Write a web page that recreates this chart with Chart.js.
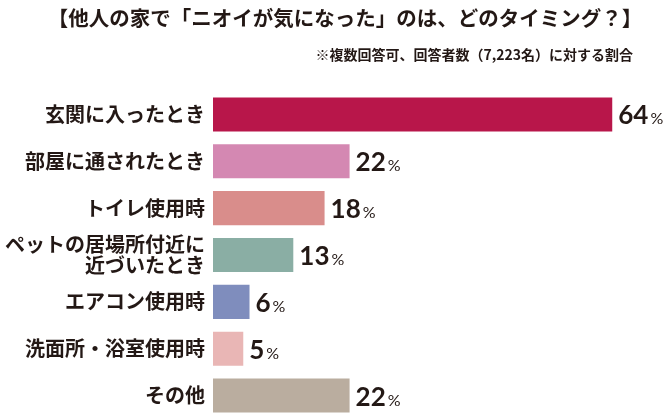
<!DOCTYPE html>
<html lang="ja">
<head>
<meta charset="utf-8">
<script src="https://cdn.jsdelivr.net/npm/chart.js@4/dist/chart.umd.min.js"></script>
<style>
  html, body { margin: 0; padding: 0; background: #fff; }
  #wrap { width: 668px; height: 419px; position: relative; }
</style>
</head>
<body>
<div id="wrap"><canvas id="chart"></canvas></div>
<script>
const chartTitle = "【他人の家で「ニオイが気になった」のは、どのタイミング？】";
const chartNote = "※複数回答可、回答者数（7,223名）に対する割合";
const categories = [
	"玄関に入ったとき",
	"部屋に通されたとき",
	"トイレ使用時",
	["ペットの居場所付近に", "近づいたとき"],
	"エアコン使用時",
	"洗面所・浴室使用時",
	"その他",
];
const values = [64, 22, 18, 13, 6, 5, 22];
const barColors = [
	"#B8164A",
	"#D488B2",
	"#D98D8B",
	"#8AAEA4",
	"#7F8DBD",
	"#E9B6B5",
	"#BAAD9F",
];

const textColor = "#231815";
const jpFont = "'Noto Sans CJK JP', 'Noto Sans', sans-serif";

const headerText = {
	id: "headerText",
	afterDraw(chart) {
		const { ctx } = chart;
		ctx.save();
		ctx.fillStyle = textColor;
		ctx.textBaseline = "middle";
		ctx.font = `bold 20.5px ${jpFont}`;
		ctx.textAlign = "center";
		ctx.fillText(chartTitle, 345, 18);
		ctx.font = `bold 14px ${jpFont}`;
		ctx.textAlign = "right";
		ctx.fillText(chartNote, 633, 55);
		ctx.restore();
	},
};

const valueLabels = {
	id: "valueLabels",
	afterDatasetsDraw(chart) {
		const { ctx } = chart;
		const meta = chart.getDatasetMeta(0);
		ctx.save();
		ctx.fillStyle = textColor;
		ctx.textAlign = "left";
		ctx.textBaseline = "alphabetic";
		meta.data.forEach((bar, idx) => {
			const num = String(chart.data.datasets[0].data[idx]);
			const x = bar.x + 5;
			const y = bar.y + 10;
			ctx.font = "bold 26px Lato, sans-serif";
			ctx.fillText(num, x, y);
			const w = ctx.measureText(num).width;
			ctx.font = "16px Lato, sans-serif";
			ctx.fillText("%", x + w + 2, y);
		});
		ctx.restore();
	},
};

new Chart(document.getElementById("chart"), {
	type: "bar",
	data: {
		labels: categories,
		datasets: [
			{
				data: values,
				backgroundColor: barColors,
				borderColor: "rgba(255,255,255,0.45)",
				borderWidth: 1,
				barPercentage: 0.77,
				categoryPercentage: 1,
			},
		],
	},
	options: {
		indexAxis: "y",
		responsive: true,
		maintainAspectRatio: false,
		animation: false,
		layout: {
			padding: { top: 91, right: 36, bottom: 0, left: 0 },
		},
		scales: {
			x: {
				display: false,
				min: 0,
				max: 67,
			},
			y: {
				afterFit: (scale) => {
					scale.width = 213;
					scale.paddingTop = 0;
					scale.paddingBottom = 0;
				},
				grid: { display: false, drawTicks: false },
				border: { display: false },
				ticks: {
					padding: 8,
					color: textColor,
					font: { family: jpFont, size: 20, weight: "bold", lineHeight: 1.05 },
				},
			},
		},
		plugins: {
			legend: { display: false },
			tooltip: { enabled: false },
		},
	},
	plugins: [headerText, valueLabels],
});
</script>
</body>
</html>
